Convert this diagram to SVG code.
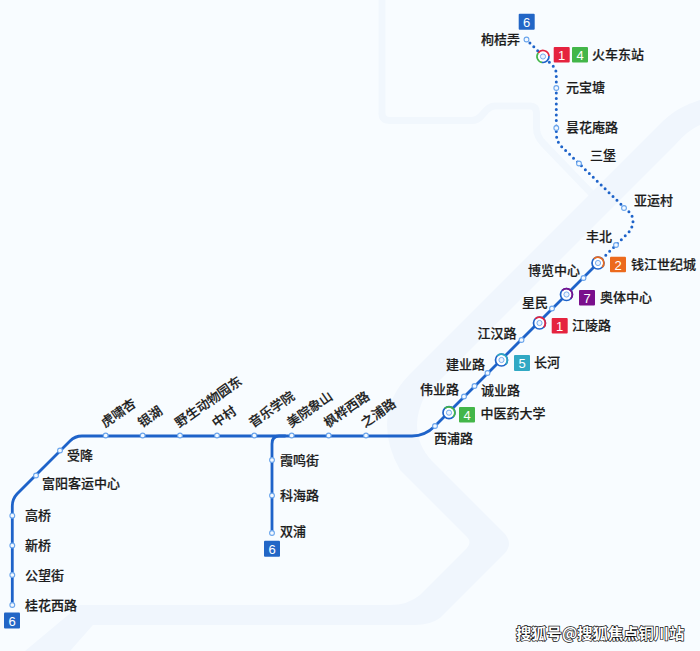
<svg xmlns="http://www.w3.org/2000/svg" width="700" height="651" viewBox="0 0 700 651">
<style>
.bg{fill:#f8fcff}
.band{fill:#f0f6fd}
.road{fill:none;stroke:#f1f7fd;stroke-width:7;stroke-linejoin:round}
.line{fill:none;stroke:#1e63c9;stroke-width:2.800;stroke-linecap:round}
.dot{fill:none;stroke:#1e63c9;stroke-width:3;stroke-linecap:round;stroke-dasharray:0 5.500}
.st{fill:#f4f9ff;stroke:#6aa5ec;stroke-width:1.100}
.ring{fill:#fff;stroke:#1e63c9;stroke-width:1.700}
.arc{fill:none;stroke-width:1.700}
.in{fill:#eaf3fe;stroke:#6aa5ec;stroke-width:.9}
.lb{font-family:"Noto Sans CJK SC","Noto Sans",sans-serif;font-size:13px;font-weight:500;fill:#1c1c1c;stroke:#1c1c1c;stroke-width:.2}
.bn{font-family:"Liberation Sans",Arial,sans-serif;font-size:13px;fill:#fff;text-anchor:middle}
.wm{font-family:"Noto Sans CJK SC",sans-serif;font-size:15.300px;font-weight:700;fill:#fff;stroke:#111;stroke-width:1.400;paint-order:stroke}
</style>
<defs>
<circle id="s" class="st" r="2.400"/>
<g id="t"><circle class="ring" r="6"/><circle class="in" r="2.600"/></g>
<path id="a" class="arc" d="M-4.240,-4.240A6,6 0 0 1 4.240,4.240"/>
</defs>
<rect class="bg" width="700" height="651"/>
<g id="background">
<path class="road" d="M382,0V113Q382,120.500 390,120.500H472Q478,120.500 483,114Q489,106 495,106H530Q536.500,106 536.500,113V128Q536.500,136 543,143L592,194"/>
<path class="band" d="M700,100C685,105 675,110 663,121L410,374Q387,397 387,425Q387,447 400,470L467,537Q472,542 467,548L420,595Q408,605 390,605H80L25,651H70L93,625H415Q430,625 440,618L505,553Q513,544 505,534L432,461Q417,445 417,425Q417,412 425,395L675,145Q688,130 700,125Z"/>
</g>
<g id="connectors">
<path class="line" d="M12.300,605V506Q12.300,499 17,494L70,441Q75,436 82,436H412C422,436 429,432 435,426L598,263"/>
<path class="line" d="M285,436H279Q272,436 272,444V533"/>
<path class="dot" d="M598,263L627,234Q633,228 633,221Q633,215 628,211L579,163.500L561,146Q556.300,141 556.300,133V74Q556.300,70 553,66L526.500,39.500"/>
</g>
<g id="n-guihuaxilu"><use href="#s" x="12.300" y="605"/><text class="lb" x="25" y="609.500">桂花西路</text><rect x="4" y="612.500" width="16" height="16" rx="1" fill="#2266c6"/><text class="bn" x="12" y="625.500">6</text></g>
<g id="n-gongwangjie"><use href="#s" x="12.300" y="575"/><text class="lb" x="25" y="579.500">公望街</text></g>
<g id="n-xinqiao"><use href="#s" x="12.300" y="545.500"/><text class="lb" x="25" y="550">新桥</text></g>
<g id="n-gaoqiao"><use href="#s" x="12.300" y="515.700"/><text class="lb" x="25" y="520">高桥</text></g>
<g id="n-fuyang"><use href="#s" x="36" y="475.500"/><text class="lb" x="42" y="488">富阳客运中心</text></g>
<g id="n-shouxiang"><use href="#s" x="60" y="450.500"/><text class="lb" x="67" y="459.500">受降</text></g>
<g id="n-huxiaoxing"><use href="#s" x="105.700" y="435.500"/><text class="lb" transform="translate(105,428) rotate(-35)">虎啸杏</text></g>
<g id="n-yinhu"><use href="#s" x="142.700" y="435.500"/><text class="lb" transform="translate(142,428) rotate(-35)">银湖</text></g>
<g id="n-yesheng"><use href="#s" x="180" y="435.500"/><text class="lb" transform="translate(179,428) rotate(-35)">野生动物园东</text></g>
<g id="n-zhongcun"><use href="#s" x="217" y="435.500"/><text class="lb" transform="translate(216,428) rotate(-35)">中村</text></g>
<g id="n-yinyue"><use href="#s" x="254.300" y="435.500"/><text class="lb" transform="translate(253,428) rotate(-35)">音乐学院</text></g>
<g id="n-meiyuan"><use href="#s" x="291.700" y="435.500"/><text class="lb" transform="translate(291,428) rotate(-35)">美院象山</text></g>
<g id="n-fenghua"><use href="#s" x="328.700" y="435.500"/><text class="lb" transform="translate(328,428) rotate(-35)">枫桦西路</text></g>
<g id="n-zhipu"><use href="#s" x="366" y="435.500"/><text class="lb" transform="translate(365,428) rotate(-35)">之浦路</text></g>
<g id="n-xiamingjie"><use href="#s" x="272" y="460"/><text class="lb" x="280" y="465">霞鸣街</text></g>
<g id="n-kehailu"><use href="#s" x="272" y="495.500"/><text class="lb" x="280" y="500">科海路</text></g>
<g id="n-shuangpu"><use href="#s" x="272" y="533"/><text class="lb" x="280" y="536">双浦</text><rect x="264" y="540.700" width="16" height="16" rx="1" fill="#2266c6"/><text class="bn" x="272" y="553.500">6</text></g>
<g id="n-xipulu"><use href="#s" x="435" y="426"/><text class="lb" x="434" y="443">西浦路</text></g>
<g id="n-zhongyiyao"><use href="#t" x="449" y="412.700"/><use href="#a" x="449" y="412.700" stroke="#43b649"/><rect x="459" y="407" width="16" height="15.500" rx="1" fill="#43b649"/><text class="bn" x="467" y="419.500">4</text><text class="lb" x="480.500" y="418">中医药大学</text></g>
<g id="n-weiye"><use href="#s" x="464" y="396.500"/><text class="lb" x="420" y="394">伟业路</text></g>
<g id="n-chengye"><use href="#s" x="474.500" y="386"/><text class="lb" x="481" y="395">诚业路</text></g>
<g id="n-jianye"><use href="#s" x="487.500" y="373"/><text class="lb" x="446" y="368.500">建业路</text></g>
<g id="n-changhe"><use href="#t" x="501.500" y="360"/><use href="#a" x="501.500" y="360" stroke="#31a9c4"/><rect x="514" y="355" width="16" height="16" rx="1" fill="#31a9c4"/><text class="bn" x="522" y="367.500">5</text><text class="lb" x="534" y="367">长河</text></g>
<g id="n-jianghan"><use href="#s" x="521.500" y="340"/><text class="lb" x="477.500" y="338">江汉路</text></g>
<g id="n-jianglinglu"><use href="#t" x="539.500" y="323"/><use href="#a" x="539.500" y="323" stroke="#e5233f"/><rect x="551.700" y="318" width="16" height="15.500" rx="1" fill="#e5233f"/><text class="bn" x="559.700" y="330.500">1</text><text class="lb" x="572" y="330">江陵路</text></g>
<g id="n-xingmin"><use href="#s" x="552" y="308.500"/><text class="lb" x="522" y="306.500">星民</text></g>
<g id="n-aoti"><use href="#t" x="566.500" y="294.500"/><use href="#a" x="566.500" y="294.500" stroke="#7a0f8c"/><rect x="579" y="290" width="16" height="15.500" rx="1" fill="#7a0f8c"/><text class="bn" x="587" y="302.500">7</text><text class="lb" x="600" y="301.500">奥体中心</text></g>
<g id="n-bolan"><use href="#s" x="583.500" y="278"/><text class="lb" x="528" y="275">博览中心</text></g>
<g id="n-qianjiang"><use href="#t" x="598" y="263"/><use href="#a" x="598" y="263" stroke="#ec6a1d"/><rect x="610" y="256.700" width="16" height="15.500" rx="1" fill="#ec6a1d"/><text class="bn" x="618" y="269.500">2</text><text class="lb" x="631" y="268.500">钱江世纪城</text></g>
<g id="n-fengbei"><use href="#s" x="616" y="245"/><text class="lb" x="586" y="241">丰北</text></g>
<g id="n-yayun"><use href="#s" x="624" y="208"/><text class="lb" x="634" y="205">亚运村</text></g>
<g id="n-sanbao"><use href="#s" x="579" y="163.500"/><text class="lb" x="590" y="160">三堡</text></g>
<g id="n-tanhua"><use href="#s" x="556.300" y="128"/><text class="lb" x="566" y="132">昙花庵路</text></g>
<g id="n-yuanbao"><use href="#s" x="556.300" y="88"/><text class="lb" x="566" y="92">元宝塘</text></g>
<g id="n-huochedong"><circle cx="543" cy="56.500" r="6" fill="#fff"/><path class="arc" stroke="#e5233f" d="M538.200,52.900A6,6 0 0 1 549,56"/><path class="arc" stroke="#1e63c9" d="M549,56A6,6 0 0 1 542,62.400"/><path class="arc" stroke="#43b649" d="M542,62.400A6,6 0 0 1 538.200,52.900"/><circle class="in" cx="543" cy="56.500" r="2.600"/><rect x="553.700" y="47" width="16" height="15.500" rx="1" fill="#e5233f"/><text class="bn" x="561.700" y="59.500">1</text><rect x="572" y="47" width="16" height="15.500" rx="1" fill="#43b649"/><text class="bn" x="580" y="59.500">4</text><text class="lb" x="592" y="59">火车东站</text></g>
<g id="n-goujunong"><use href="#s" x="526.500" y="39.500"/><text class="lb" x="481" y="43.500">枸桔弄</text><rect x="518.700" y="13.700" width="16" height="16" rx="1" fill="#2266c6"/><text class="bn" x="526.700" y="26.500">6</text></g>
<text class="wm" x="516" y="639">搜狐号@搜狐焦点铜川站</text>
</svg>
